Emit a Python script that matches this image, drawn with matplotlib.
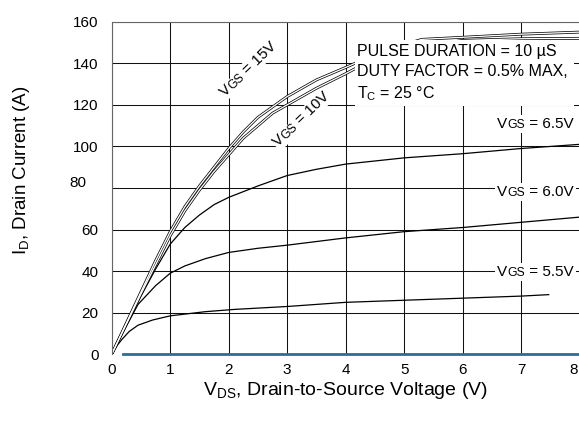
import matplotlib
matplotlib.use("Agg")
import math
import matplotlib.pyplot as plt
from matplotlib.offsetbox import TextArea, HPacker, AnnotationBbox
from matplotlib.patches import Rectangle
from matplotlib.transforms import ScaledTranslation
from matplotlib.font_manager import FontProperties

plt.rcParams['font.family'] = ['Liberation Sans', 'DejaVu Sans']
plt.rcParams['mathtext.default'] = 'regular'

# ---------------- data ----------------
x_ticks = [0, 1, 2, 3, 4, 5, 6, 7, 8]
y_ticks = [0, 20, 40, 60, 80, 100, 120, 140, 160]

vds_15 = [0, 0.25, 0.5, 0.75, 1.0, 1.25, 1.5, 1.75, 2.0, 2.25, 2.5, 2.75, 3.0, 3.5, 4.0, 4.2, 5.0, 5.3, 6.0, 7.0, 8.0]
id_15 = [0, 15, 30, 45, 59, 71, 81, 90, 99, 107, 114, 119, 124, 132, 138, 140.5, 149, 151.5, 152.5, 154, 155]

vds_10 = [0, 0.25, 0.5, 0.75, 1.0, 1.25, 1.5, 1.75, 2.0, 2.25, 2.5, 2.75, 3.0, 3.5, 4.0, 4.2, 5.3, 6.0, 7.0, 8.0]
id_10 = [0, 14.5, 29, 43, 57, 69, 79, 88, 96, 104, 110, 116, 120, 128, 135, 138, 148, 151, 151.8, 152]

vds_65 = [0, 0.25, 0.5, 0.75, 1.0, 1.25, 1.5, 1.75, 2.0, 2.5, 3.0, 3.5, 4.0, 5.0, 6.0, 7.0, 8.0]
id_65 = [0, 14, 28, 41, 53, 61, 67, 72, 75.5, 81, 86, 89, 91.5, 94.5, 96.5, 99, 101]

vds_60 = [0, 0.25, 0.45, 0.75, 1.0, 1.25, 1.6, 2.0, 2.5, 3.0, 4.0, 5.0, 6.0, 7.0, 8.0]
id_60 = [0, 13.5, 24, 33, 39, 42.5, 46, 49, 51, 52.5, 56, 59, 61, 63.5, 66]

vds_55 = [0, 0.1, 0.17, 0.3, 0.45, 0.7, 1.0, 1.6, 2.1, 3.0, 4.0, 5.0, 6.0, 7.0, 7.47]
id_55 = [0, 4.5, 7, 11, 14, 16.5, 18.5, 20.5, 21.6, 23, 25, 26, 27, 28, 28.7]

vds_base = [0.19, 8.0]
id_base = [0, 0]

curve_labels = ["VGS = 15V", "VGS = 10V", "VGS = 6.5V", "VGS = 6.0V", "VGS = 5.5V"]
note_lines = ["PULSE DURATION = 10 µS", "DUTY FACTOR = 0.5% MAX,", "T$_\\mathregular{C}$ = 25 °C"]

# ---------------- figure ----------------
W, H, DPI = 579, 422, 100
fig = plt.figure(figsize=(W / DPI, H / DPI), dpi=DPI)
ax = fig.add_axes([111.7 / W, (H - 354.3) / H, 468 / W, 332.6 / H])
ax.set_xlim(0, 8)
ax.set_ylim(0, 160)
ax.set_xticks(x_ticks)
ax.set_yticks(y_ticks)
ax.set_xticklabels([str(v) for v in x_ticks])
ax.set_yticklabels([str(v) for v in y_ticks])
ax.tick_params(axis='both', length=0, labelsize=11, colors='black')
ax.tick_params(axis='x', pad=6.5)
ax.tick_params(axis='y', pad=9.5)
ax.grid(True, color='#111111', linewidth=0.75)
ax.set_axisbelow(True)
for s in ['right', 'bottom']:
    ax.spines[s].set_visible(False)
for s in ['left', 'top']:
    ax.spines[s].set_color('#666666')
    ax.spines[s].set_linewidth(0.8)
ax.yaxis.get_gridlines()[0].set_visible(False)

# tick label quirks
xt = ax.get_xticklabels()
xt[-1].set_transform(xt[-1].get_transform() + ScaledTranslation(-6 / DPI, 0, fig.dpi_scale_trans))
yt = ax.get_yticklabels()
yt[4].set_transform(yt[4].get_transform() + ScaledTranslation(-12 / DPI, 6.5 / DPI, fig.dpi_scale_trans))

# curves
for xs, ys in [(vds_15, id_15), (vds_10, id_10)]:
    ax.plot(xs, ys, color='black', lw=2.0, zorder=2, solid_capstyle='butt')
    ax.plot(xs, ys, color='white', lw=0.95, zorder=2.1, solid_capstyle='butt')
for xs, ys in [(vds_65, id_65), (vds_60, id_60), (vds_55, id_55)]:
    ax.plot(xs, ys, color='black', lw=0.9, zorder=2)
ax.plot(vds_base, id_base, color='#2b6f8e', lw=2.0, zorder=2.5, clip_on=False)

# white note box
ax.add_patch(Rectangle((4.16, 119.6), 7.91 - 4.16, 151.0 - 119.6, facecolor='white',
                       edgecolor='none', zorder=3))
for txt, yb in zip(note_lines, [143.5, 134.0, 123.1]):
    ax.text(4.19, yb, txt, fontsize=11.5, ha='left', va='baseline', zorder=4)

# horizontal VGS labels
def vgs_label(label, x, y, size=11):
    val = label.split("=")[1].strip()
    parts = [TextArea("V", textprops=dict(size=size)),
             TextArea("GS", textprops=dict(size=size * 0.8)),
             TextArea(" = " + val, textprops=dict(size=size))]
    box = HPacker(children=parts, align="baseline", pad=0, sep=0)
    ab = AnnotationBbox(box, (x, y), xycoords='data', box_alignment=(0, 0.5),
                        frameon=True, pad=0.15,
                        bboxprops=dict(facecolor='white', edgecolor='none'), zorder=5)
    ax.add_artist(ab)

vgs_label(curve_labels[2], 6.59, 110.8)
vgs_label(curve_labels[3], 6.59, 78.0)
vgs_label(curve_labels[4], 6.59, 39.6)

# rotated VGS labels (built from pieces along the baseline)
renderer = fig.canvas.get_renderer()

def rot_label(label, x, y, angle=44, size=11):
    val = label.split("=")[1].strip()
    pieces = [("V", size), ("GS", size * 0.8), (" = " + val, size)]
    off = 0.0
    c, s = math.cos(math.radians(angle)), math.sin(math.radians(angle))
    for t, sz in pieces:
        ax.annotate(t, xy=(x, y), xycoords='data', xytext=(off * c, off * s),
                    textcoords='offset points', fontsize=sz, rotation=angle,
                    rotation_mode='anchor', ha='left', va='baseline', zorder=5,
                    bbox=dict(boxstyle='square,pad=0.08', facecolor='white', edgecolor='none'))
        fp = FontProperties(family=plt.rcParams['font.family'], size=sz)
        w, h, d = renderer.get_text_width_height_descent(t.replace(" ", "\u00a0"), fp, ismath=False)
        off += w * 72 / DPI

rot_label(curve_labels[0], 1.93, 123.6)
rot_label(curve_labels[1], 2.85, 99.5)

# axis labels
fig.text(345.7 / W, (H - 395) / H, "V$_\\mathregular{DS}$, Drain-to-Source Voltage (V)",
         fontsize=14, ha='center', va='baseline')
fig.text(22 / W, 1 - 170 / H, "I$_\\mathregular{D}$, Drain Current (A)",
         fontsize=13.5, ha='center', va='center', rotation=90)

fig.savefig("out.png", dpi=DPI)
